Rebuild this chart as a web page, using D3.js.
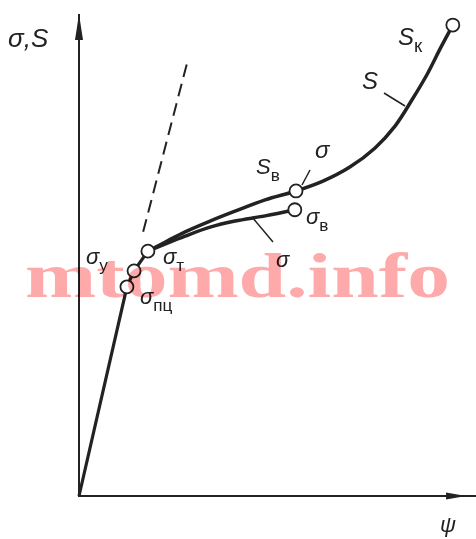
<!DOCTYPE html>
<html>
<head>
<meta charset="utf-8">
<script src="https://d3js.org/d3.v7.min.js"></script>
<style>
  body { margin: 0; background: #fff; }
  svg { display: block; }
  .lbl { font-family: 'Liberation Sans', sans-serif; font-style: italic; fill: #222; }
</style>
</head>
<body>
<svg></svg>
<script>
// stress-strain sketch: sigma (engineering) and S (true stress) vs psi
var width = 476
var height = 539

// elastic part: origin -> limit of proportionality -> elastic limit -> yield point
var elasticX = [0, 12.1, 13.9, 17.4]
var elasticY = [0, 44.5, 47.9, 52.1]

// true stress curve S, from yield to fracture
var sCurveX = [17.4, 21.7, 26.8, 33.1, 39.4, 47.0, 54.8, 61.6, 68.4, 74.7, 79.8, 84.1, 88.1, 91.4, 94.4]
var sCurveY = [52.1, 54.0, 56.2, 58.5, 60.6, 63.0, 64.9, 67.0, 70.0, 74.0, 78.7, 84.3, 90.0, 95.5, 100.2]

// engineering curve sigma, from yield to ultimate
var sigCurveX = [17.4, 21.7, 26.8, 33.1, 39.4, 47.0, 54.5]
var sigCurveY = [52.1, 53.6, 55.3, 57.2, 58.5, 59.6, 60.9]

// dashed continuation of the elastic line
var dashX = [16.2, 27.5]
var dashY = [56.2, 92.8]

// marked points
var pointNames = ['пц', 'у', 'т', 'σв', 'Sв', 'Sк']
var pointX = [12.1, 13.9, 17.4, 54.5, 54.8, 94.4]
var pointY = [44.5, 47.9, 52.1, 60.9, 64.9, 100.2]

var xScale = d3.scaleLinear().domain([0, 100]).range([79, 475])
var yScale = d3.scaleLinear().domain([0, 100]).range([496, 26])

var svg = d3.select('svg')
    .attr('width', width)
    .attr('height', height)

var line = d3.line()
    .x(d => xScale(d[0]))
    .y(d => yScale(d[1]))

var smooth = d3.line()
    .x(d => xScale(d[0]))
    .y(d => yScale(d[1]))
    .curve(d3.curveCatmullRom)

function zip(xs, ys) { return xs.map((x, i) => [x, ys[i]]) }

// axes (no ticks, just arrows)
var x0 = xScale(0), y0 = yScale(0)
svg.append('line')
    .attr('x1', x0).attr('y1', y0 + 1).attr('x2', x0).attr('y2', 14)
    .attr('stroke', '#222').attr('stroke-width', 2)
svg.append('path')
    .attr('d', 'M' + x0 + ',14 L' + (x0 - 4) + ',40 L' + (x0 + 4) + ',40 Z')
    .attr('fill', '#222')
svg.append('line')
    .attr('x1', x0 - 1).attr('y1', y0).attr('x2', 476).attr('y2', y0)
    .attr('stroke', '#222').attr('stroke-width', 2)
svg.append('path')
    .attr('d', 'M466,' + y0 + ' L446,' + (y0 - 3.5) + ' L446,' + (y0 + 3.5) + ' Z')
    .attr('fill', '#222')

// dashed line
svg.append('path')
    .attr('d', line(zip(dashX, dashY)))
    .attr('stroke', '#222').attr('stroke-width', 2)
    .attr('stroke-dasharray', '13,7')
    .attr('fill', 'none')

// elastic line
svg.append('path')
    .attr('d', line(zip(elasticX, elasticY)))
    .attr('stroke', '#222').attr('stroke-width', 3.2)
    .attr('fill', 'none')

svg.append('path')
    .attr('d', smooth(zip(sigCurveX, sigCurveY)))
    .attr('stroke', '#222').attr('stroke-width', 3.5)
    .attr('fill', 'none')

svg.append('path')
    .attr('d', smooth(zip(sCurveX, sCurveY)))
    .attr('stroke', '#222').attr('stroke-width', 3.5)
    .attr('fill', 'none')

// leader lines
var leaders = [[384, 93, 405, 106], [252, 217, 273, 242], [310, 170, 302, 185]]
svg.selectAll('.leader')
    .data(leaders)
    .enter()
    .append('line')
    .attr('x1', d => d[0]).attr('y1', d => d[1])
    .attr('x2', d => d[2]).attr('y2', d => d[3])
    .attr('stroke', '#222').attr('stroke-width', 1.5)

svg.selectAll('circle')
    .data(pointNames)
    .enter()
    .append('circle')
    .attr('cx', (d, i) => xScale(pointX[i]))
    .attr('cy', (d, i) => yScale(pointY[i]))
    .attr('r', 6.5)
    .attr('fill', '#fff')
    .attr('stroke', '#222')
    .attr('stroke-width', 1.8)

// labels
function label(x, y, main, sub, size) {
  var t = svg.append('text')
      .attr('class', 'lbl')
      .attr('x', x).attr('y', y)
      .style('font-size', size + 'px')
      .text(main)
  if (sub) {
    t.append('tspan')
        .attr('dy', size * 0.3)
        .style('font-style', 'normal')
        .style('font-size', (size * 0.78) + 'px')
        .text(sub)
  }
}

label(8, 47, 'σ,S', null, 26)
label(398, 45, 'S', 'к', 24)
label(362, 89, 'S', null, 24)
label(315, 158, 'σ', null, 24)
label(256, 174, 'S', 'в', 22)
label(306, 224, 'σ', 'в', 22)
label(163, 264, 'σ', 'т', 22)
label(86, 264, 'σ', 'у', 22)
label(140, 304, 'σ', 'пц', 22)
label(276, 267, 'σ', null, 22)
label(440, 532, 'ψ', null, 22)

// watermark
svg.append('text')
    .attr('x', 25).attr('y', 297)
    .attr('textLength', 425)
    .attr('lengthAdjust', 'spacingAndGlyphs')
    .style('font-family', "'Liberation Serif', serif")
    .style('font-weight', 'bold')
    .style('font-size', '64px')
    .style('fill', '#ffaaaa')
    .style('mix-blend-mode', 'multiply')
    .text('mtomd.info')
</script>
</body>
</html>
